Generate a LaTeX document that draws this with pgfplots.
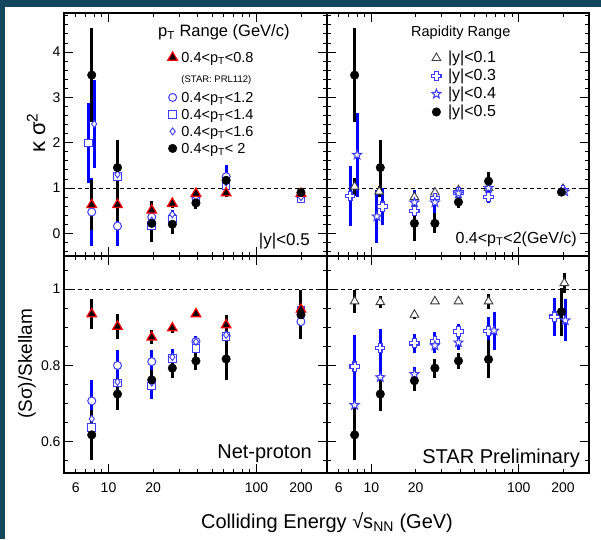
\documentclass[border=0pt]{standalone}
\usepackage{fontspec}
\setmainfont{Liberation Sans}
\usepackage{pgfplots}
\pgfplotsset{compat=1.18}
\usetikzlibrary{plotmarks}
\definecolor{bgteal}{RGB}{20,71,94}
\definecolor{bblue}{RGB}{0,0,255}
\definecolor{mblue}{RGB}{60,60,250}
\definecolor{tgray}{RGB}{60,60,60}
\newcommand{\fs}[1]{\fontsize{#1}{#1}\selectfont}
\newcommand{\sth}[1]{\rule{0pt}{#1pt}}

\pgfdeclareplotmark{ocross}{%
 \pgfpathmoveto{\pgfqpoint{-0.36\pgfplotmarksize}{\pgfplotmarksize}}%
 \pgfpathlineto{\pgfqpoint{0.36\pgfplotmarksize}{\pgfplotmarksize}}%
 \pgfpathlineto{\pgfqpoint{0.36\pgfplotmarksize}{0.36\pgfplotmarksize}}%
 \pgfpathlineto{\pgfqpoint{\pgfplotmarksize}{0.36\pgfplotmarksize}}%
 \pgfpathlineto{\pgfqpoint{\pgfplotmarksize}{-0.36\pgfplotmarksize}}%
 \pgfpathlineto{\pgfqpoint{0.36\pgfplotmarksize}{-0.36\pgfplotmarksize}}%
 \pgfpathlineto{\pgfqpoint{0.36\pgfplotmarksize}{-\pgfplotmarksize}}%
 \pgfpathlineto{\pgfqpoint{-0.36\pgfplotmarksize}{-\pgfplotmarksize}}%
 \pgfpathlineto{\pgfqpoint{-0.36\pgfplotmarksize}{-0.36\pgfplotmarksize}}%
 \pgfpathlineto{\pgfqpoint{-\pgfplotmarksize}{-0.36\pgfplotmarksize}}%
 \pgfpathlineto{\pgfqpoint{-\pgfplotmarksize}{0.36\pgfplotmarksize}}%
 \pgfpathlineto{\pgfqpoint{-0.36\pgfplotmarksize}{0.36\pgfplotmarksize}}%
 \pgfpathclose\pgfusepathqfillstroke}
\pgfdeclareplotmark{ostar}{%
 \pgfpathmoveto{\pgfpointpolar{90}{\pgfplotmarksize}}%
 \pgfpathlineto{\pgfpointpolar{126}{0.42\pgfplotmarksize}}%
 \pgfpathlineto{\pgfpointpolar{162}{\pgfplotmarksize}}%
 \pgfpathlineto{\pgfpointpolar{198}{0.42\pgfplotmarksize}}%
 \pgfpathlineto{\pgfpointpolar{234}{\pgfplotmarksize}}%
 \pgfpathlineto{\pgfpointpolar{270}{0.42\pgfplotmarksize}}%
 \pgfpathlineto{\pgfpointpolar{306}{\pgfplotmarksize}}%
 \pgfpathlineto{\pgfpointpolar{342}{0.42\pgfplotmarksize}}%
 \pgfpathlineto{\pgfpointpolar{18}{\pgfplotmarksize}}%
 \pgfpathlineto{\pgfpointpolar{54}{0.42\pgfplotmarksize}}%
 \pgfpathclose\pgfusepathqfillstroke}

\pgfplotsset{
 ebk/.style={error bars/y dir=both, error bars/y explicit, error bars/error mark=none, error bars/error bar style={line width=3pt, black}},
 ebb/.style={error bars/y dir=both, error bars/y explicit, error bars/error mark=none, error bars/error bar style={line width=3pt, bblue}},
 sA/.style={only marks, forget plot, mark=triangle*, mark size=5.5pt, mark options={solid, fill=black, draw=red, line width=1.2pt}, ebk},
 sB/.style={only marks, forget plot, mark=*, mark size=4pt, mark options={solid, fill=white, draw=mblue, line width=1pt}, ebb},
 sC/.style={only marks, forget plot, mark=square*, mark size=3.8pt, mark options={solid, fill=white, draw=mblue, line width=1pt}, ebb},
 sD/.style={only marks, forget plot, mark=diamond*, mark size=3.5pt, mark options={solid, fill=white, draw=mblue, line width=0.9pt}, ebb},
 sE/.style={only marks, forget plot, mark=*, mark size=4.3pt, mark options={solid, fill=black, draw=black}, ebk},
 sF/.style={only marks, forget plot, mark=triangle*, mark size=5pt, mark options={solid, fill=white, draw=tgray, line width=0.9pt}, ebk},
 sG/.style={only marks, forget plot, mark=ocross, mark size=4.6pt, mark options={solid, fill=white, draw=mblue, line width=1.1pt}, ebb},
 sH/.style={only marks, forget plot, mark=ostar, mark size=4.8pt, mark options={solid, fill=white, draw=mblue, line width=1pt}, ebb},
 dline/.style={forget plot, black, line width=0.6pt, dash pattern=on 4pt off 3pt},
}

\begin{document}
\begin{tikzpicture}
\useasboundingbox (0,0) rectangle (601pt,539pt);
\fill[bgteal] (0,0) rectangle (601pt,539pt);
\fill[white] (5pt,0) rectangle (601pt,532pt);

% ---------------- top left
\begin{axis}[scale only axis, width=263pt, height=243pt, xmode=log, xmin=5, xmax=300,
 at={(64pt,283pt)}, anchor=south west,
 axis line style={line width=2.4pt}, tick align=inside, xtick pos=both, ytick pos=both,
 xtick={10,100}, minor xtick={5,6,7,8,9,20,30,40,50,60,70,80,90,200,300},
 extra x ticks={6,20,200}, extra x tick style={major tick length=4.5pt},
 major tick length=9pt, minor tick length=4.5pt, tick style={black, line width=0.8pt},
 tick label style={font=\fs{14}},
 ymin=-0.5, ymax=4.86,
 ytick={0,1,2,3,4}, yticklabels={0,1,2,3,4},
 minor ytick={-0.4,-0.2,0.2,0.4,0.6,0.8,1.2,1.4,1.6,1.8,2.2,2.4,2.6,2.8,3.2,3.4,3.6,3.8,4.2,4.4,4.6,4.8},
 xticklabels={}, extra x tick labels={},
 legend image code/.code={\draw[#1] plot coordinates {(0pt,5pt)};},
 legend style={at={(0.395,0.846)}, anchor=north west, draw=none, fill=none, inner sep=0pt, outer sep=0pt,
   font=\fs{14.5}, nodes={anchor=base west, inner sep=0pt},
   /tikz/every odd column/.append style={column sep=4pt}},
 legend cell align=left]
\addlegendimage{mark=triangle*, mark size=5.5pt, mark options={solid, fill=black, draw=red, line width=1.2pt}}
\addlegendentry{\sth{12}0.4<p\textsubscript{T}<0.8}
\addlegendimage{empty legend}
\addlegendentry{\sth{18.5}{\fs{9.5}(STAR: PRL112)}}
\addlegendimage{mark=*, mark size=4pt, mark options={solid, fill=white, draw=mblue, line width=1pt}}
\addlegendentry{\sth{18.5}0.4<p\textsubscript{T}<1.2}
\addlegendimage{mark=square*, mark size=3.8pt, mark options={solid, fill=white, draw=mblue, line width=1pt}}
\addlegendentry{\sth{15.5}0.4<p\textsubscript{T}<1.4}
\addlegendimage{mark=diamond*, mark size=3.5pt, mark options={solid, fill=white, draw=mblue, line width=0.9pt}}
\addlegendentry{\sth{15.5}0.4<p\textsubscript{T}<1.6}
\addlegendimage{mark=*, mark size=4.3pt, mark options={solid, fill=black, draw=black}}
\addlegendentry{\sth{15.5}0.4<p\textsubscript{T}< 2}
\addplot[dline] coordinates {(5,1) (300,1)};
\addplot[sB] coordinates {(7.7,0.47) +- (0,0.75) (11.5,0.16) +- (0,0.45) (19.6,0.36) +- (0,0.15) (27,0.36) +- (0,0.12) (39,0.78) +- (0,0.1) (62.4,1.25) +- (0,0.25) (200,0.80) +- (0,0.06)};
\addplot[sC] coordinates {(7.35,1.99) +- (0,0.88) (11.5,1.25) +- (0,0.2) (19.6,0.17) +- (0,0.12) (27,0.32) +- (0,0.1) (39,0.74) +- (0,0.08) (62.4,1.05) +- (0,0.2) (200,0.77) +- (0,0.05)};
\addplot[sD] coordinates {(8.0,2.41) +- (0,0.97) (11.5,1.3) +- (0,0.25) (19.6,0.28) +- (0,0.12) (27,0.42) +- (0,0.1) (39,0.8) +- (0,0.08) (62.4,1.12) +- (0,0.22) (200,0.8) +- (0,0.05)};
\addplot[sA] coordinates {(7.7,0.63) +- (0,0.55) (11.5,0.63) +- (0,0.35) (19.6,0.51) +- (0,0.2) (27,0.66) +- (0,0.1) (39,0.88) +- (0,0.08) (62.4,0.89) +- (0,0.08) (200,0.88) +- (0,0.06)};
\addplot[sE] coordinates {(7.7,3.49) +- (0,1.03) (11.5,1.45) +- (0,0.6) (19.6,0.22) +- (0,0.42) (27,0.2) +- (0,0.22) (39,0.67) +- (0,0.13) (62.4,1.17) +- (0,0.17) (200,0.9) +- (0,0.08)};
\end{axis}

% ---------------- top right
\begin{axis}[scale only axis, width=262pt, height=243pt, xmode=log, xmin=5, xmax=300,
 at={(327pt,283pt)}, anchor=south west,
 axis line style={line width=2.4pt}, tick align=inside, xtick pos=both, ytick pos=both,
 xtick={10,100}, minor xtick={5,6,7,8,9,20,30,40,50,60,70,80,90,200,300},
 extra x ticks={6,20,200}, extra x tick style={major tick length=4.5pt},
 major tick length=9pt, minor tick length=4.5pt, tick style={black, line width=0.8pt},
 tick label style={font=\fs{14}},
 ymin=-0.5, ymax=4.86,
 ytick={0,1,2,3,4}, yticklabels={},
 minor ytick={-0.4,-0.2,0.2,0.4,0.6,0.8,1.2,1.4,1.6,1.8,2.2,2.4,2.6,2.8,3.2,3.4,3.6,3.8,4.2,4.4,4.6,4.8},
 xticklabels={}, extra x tick labels={},
 legend image code/.code={\draw[#1] plot coordinates {(0pt,5pt)};},
 legend style={at={(0.40,0.842)}, anchor=north west, draw=none, fill=none, inner sep=0pt, outer sep=0pt,
   font=\fs{16}, nodes={anchor=base west, inner sep=0pt},
   /tikz/every odd column/.append style={column sep=7pt}},
 legend cell align=left]
\addlegendimage{mark=triangle*, mark size=5pt, mark options={solid, fill=white, draw=tgray, line width=0.9pt}}
\addlegendentry{|y|<0.1}
\addlegendimage{mark=ocross, mark size=4.6pt, mark options={solid, fill=white, draw=mblue, line width=1.1pt}}
\addlegendentry{\sth{16.5}|y|<0.3}
\addlegendimage{mark=ostar, mark size=4.8pt, mark options={solid, fill=white, draw=mblue, line width=1pt}}
\addlegendentry{\sth{16.5}|y|<0.4}
\addlegendimage{mark=*, mark size=4.3pt, mark options={solid, fill=black, draw=black}}
\addlegendentry{\sth{16.5}|y|<0.5}
\addplot[dline] coordinates {(5,1) (300,1)};
\addplot[sF] coordinates {(7.7,1.03) +- (0,0.2) (11.3,0.92) +- (0,0.12) (19.6,0.8) +- (0,0.1) (27,0.9) +- (0,0.08) (39,0.95) +- (0,0.06) (62.4,1.0) +- (0,0.05) (200,0.98) +- (0,0.04)};
\addplot[sG] coordinates {(7.2,0.82) +- (0,0.66) (11.9,0.59) +- (0,0.4) (19.6,0.49) +- (0,0.25) (27,0.78) +- (0,0.22) (39,0.9) +- (0,0.08) (62.4,0.8) +- (0,0.12) (200,0.95) +- (0,0.05)};
\addplot[sH] coordinates {(8.0,1.73) +- (0,0.93) (10.9,0.37) +- (0,0.58) (19.6,0.68) +- (0,0.28) (27,0.68) +- (0,0.25) (39,0.88) +- (0,0.1) (62.4,1.0) +- (0,0.12) (205,0.92) +- (0,0.06)};
\addplot[sE] coordinates {(7.7,3.49) +- (0,1.03) (11.5,1.45) +- (0,0.6) (19.6,0.22) +- (0,0.4) (27,0.22) +- (0,0.22) (39,0.69) +- (0,0.13) (62.4,1.15) +- (0,0.2) (195,0.91) +- (0,0.08)};
\end{axis}

% ---------------- bottom left
\begin{axis}[scale only axis, width=263pt, height=217pt, xmode=log, xmin=5, xmax=300,
 at={(64pt,66pt)}, anchor=south west,
 axis line style={line width=2.4pt}, tick align=inside, xtick pos=both, ytick pos=both,
 xtick={10,100}, minor xtick={5,6,7,8,9,20,30,40,50,60,70,80,90,200,300},
 extra x ticks={6,20,200}, extra x tick style={major tick length=4.5pt},
 major tick length=9pt, minor tick length=4.5pt, tick style={black, line width=0.8pt},
 tick label style={font=\fs{14}}, xticklabel style={yshift=-6pt},
 ymin=0.518, ymax=1.087,
 ytick={0.6,0.8,1}, yticklabels={0.6,0.8,1},
 minor ytick={0.55,0.65,0.7,0.75,0.85,0.9,0.95,1.05},
 xticklabels={10,100}, extra x tick labels={6,20,200}]
\addplot[dline] coordinates {(5,1) (300,1)};
\addplot[sB] coordinates {(7.7,0.707) +- (0,0.055) (11.5,0.80) +- (0,0.04) (19.6,0.81) +- (0,0.03) (27,0.82) +- (0,0.02) (39,0.863) +- (0,0.015) (62.4,0.878) +- (0,0.012) (200,0.915) +- (0,0.01)};
\addplot[sC] coordinates {(7.7,0.637) +- (0,0.03) (11.5,0.754) +- (0,0.02) (19.6,0.746) +- (0,0.035) (27,0.819) +- (0,0.02) (39,0.845) +- (0,0.015) (62.4,0.876) +- (0,0.012) (200,0.944) +- (0,0.01)};
\addplot[sD] coordinates {(7.7,0.66) +- (0,0.03) (11.5,0.757) +- (0,0.02) (19.6,0.755) +- (0,0.02) (27,0.822) +- (0,0.02) (39,0.862) +- (0,0.015) (62.4,0.88) +- (0,0.012) (200,0.94) +- (0,0.01)};
\addplot[sA] coordinates {(7.7,0.935) +- (0,0.04) (11.5,0.902) +- (0,0.033) (19.6,0.874) +- (0,0.018) (27,0.898) +- (0,0.012) (39,0.935) +- (0,0.008) (62.4,0.906) +- (0,0.025) (200,0.947) +- (0,0.01)};
\addplot[sE] coordinates {(7.7,0.618) +- (0,0.065) (11.5,0.725) +- (0,0.043) (19.6,0.762) +- (0,0.026) (27,0.793) +- (0,0.026) (39,0.812) +- (0,0.024) (62.4,0.817) +- (0,0.055) (200,0.933) +- (0,0.064)};
\end{axis}

% ---------------- bottom right
\begin{axis}[scale only axis, width=262pt, height=217pt, xmode=log, xmin=5, xmax=300,
 at={(327pt,66pt)}, anchor=south west,
 axis line style={line width=2.4pt}, tick align=inside, xtick pos=both, ytick pos=both,
 xtick={10,100}, minor xtick={5,6,7,8,9,20,30,40,50,60,70,80,90,200,300},
 extra x ticks={6,20,200}, extra x tick style={major tick length=4.5pt},
 major tick length=9pt, minor tick length=4.5pt, tick style={black, line width=0.8pt},
 tick label style={font=\fs{14}}, xticklabel style={yshift=-6pt},
 ymin=0.518, ymax=1.087,
 ytick={0.6,0.8,1}, yticklabels={},
 minor ytick={0.55,0.65,0.7,0.75,0.85,0.9,0.95,1.05},
 xticklabels={10,100}, extra x tick labels={6,20,200}]
\addplot[dline] coordinates {(5,1) (300,1)};
\addplot[sF] coordinates {(7.7,0.968) +- (0,0.03) (11.5,0.966) +- (0,0.015) (19.6,0.933) +- (0,0.01) (27,0.968) +- (0,0.005) (39,0.968) +- (0,0.005) (62.4,0.968) +- (0,0.02) (204,1.016) +- (0,0.027)};
\addplot[sG] coordinates {(7.7,0.797) +- (0,0.083) (11.5,0.845) +- (0,0.05) (19.6,0.858) +- (0,0.025) (27,0.863) +- (0,0.025) (39,0.889) +- (0,0.02) (62.4,0.891) +- (0,0.035) (175,0.928) +- (0,0.05)};
\addplot[sH] coordinates {(7.7,0.696) +- (0,0.03) (11.5,0.769) +- (0,0.03) (19.6,0.777) +- (0,0.02) (27,0.852) +- (0,0.02) (39,0.86) +- (0,0.02) (68,0.891) +- (0,0.05) (207,0.918) +- (0,0.055)};
\addplot[sE] coordinates {(7.7,0.618) += (0,0.074) -= (0,0.066) (11.5,0.725) +- (0,0.045) (19.6,0.76) +- (0,0.027) (27,0.793) +- (0,0.025) (39,0.812) +- (0,0.02) (62.4,0.816) +- (0,0.05) (195,0.941) +- (0,0.063)};
\end{axis}

% ---------------- texts
\node[anchor=base west, font=\fs{16.5}, inner sep=0pt] at (158pt,502pt) {p\textsubscript{T} Range (GeV/c)};
\node[anchor=base west, font=\fs{14.5}, inner sep=0pt] at (411pt,502pt) {Rapidity Range};
\node[anchor=base east, font=\fs{17}, inner sep=0pt] at (310pt,294pt) {|y|<0.5};
\node[anchor=base east, font=\fs{16}, inner sep=0pt] at (577pt,296pt) {0.4<p\textsubscript{T}<2(GeV/c)};
\node[anchor=base east, font=\fs{20}, inner sep=0pt] at (312pt,81pt) {Net-proton};
\node[anchor=base east, font=\fs{20}, inner sep=0pt] at (580pt,76pt) {STAR Preliminary};
\node[anchor=base, font=\fs{20}, inner sep=0pt] at (327pt,11pt) {Colliding Energy √s\textsubscript{NN} (GeV)};
\node[rotate=90, font=\fs{22}, inner sep=0pt] at (36pt,406pt) {κ σ\textsuperscript{2}};
\node[rotate=90, font=\fs{19}, inner sep=0pt] at (27pt,175pt) {(Sσ)/Skellam};
\end{tikzpicture}
\end{document}
